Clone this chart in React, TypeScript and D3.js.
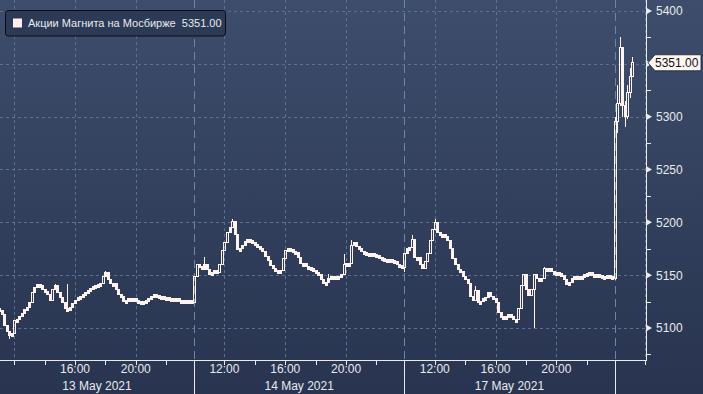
import React from "react";
import * as d3 from "d3";

// ---------- data ----------
const dayLabels = ["13 May 2021", "14 May 2021", "17 May 2021", "18 May 2021"];
const sessionOpen = "10:00";
const sessionClose = "23:50";
const firstBarTimes = ["11:00", "10:00", "10:00", "10:00"];
const barMinutes = 10;
const firstOpen = 5118;

const closes13 = [
  5116, 5112, 5102, 5096, 5092, 5094, 5107, 5108, 5110, 5113,
  5117, 5119, 5124, 5133, 5138, 5141, 5140, 5136, 5134, 5131,
  5126, 5136, 5140, 5133, 5128, 5124, 5118, 5117, 5119, 5123,
  5126, 5128, 5129, 5131, 5133, 5135, 5137, 5139, 5140, 5141,
  5142, 5148, 5152, 5145, 5142, 5142, 5136, 5131, 5129, 5125,
  5126, 5127, 5127, 5127, 5126, 5125, 5124, 5125, 5126, 5127,
  5129, 5131, 5130, 5129, 5129, 5128, 5128, 5127, 5127, 5127,
  5127, 5126, 5126, 5126, 5126, 5126, 5124,
];
const closes14 = [
  5148, 5160, 5158, 5155, 5160, 5155, 5150, 5152, 5154, 5152,
  5160, 5173, 5180, 5190, 5195, 5200, 5188, 5174, 5175, 5178,
  5181, 5183, 5182, 5180, 5179, 5177, 5175, 5172, 5167, 5163,
  5159, 5156, 5154, 5153, 5154, 5165, 5173, 5175, 5174, 5172,
  5171, 5166, 5161, 5161, 5158, 5157, 5156, 5154, 5152, 5150,
  5145, 5142, 5143, 5146, 5148, 5148, 5148, 5147, 5150, 5160,
  5161, 5161, 5178, 5180, 5177, 5175, 5172, 5171, 5170, 5170,
  5170, 5169, 5168, 5166, 5165, 5164, 5164, 5164, 5163, 5162,
  5160, 5159, 5157,
];
const closes17 = [
  5170, 5175, 5176, 5183, 5166, 5166, 5160, 5156, 5162, 5170,
  5182, 5193, 5199, 5190, 5188, 5188, 5186, 5182, 5175, 5165,
  5160, 5155, 5153, 5148, 5145, 5142, 5129, 5126, 5135, 5124,
  5125, 5127, 5128, 5133, 5129, 5127, 5124, 5114, 5109, 5110,
  5110, 5112, 5110, 5108, 5108, 5118, 5140, 5150, 5136, 5130,
  5136, 5150, 5146, 5145, 5146, 5156, 5155, 5156, 5153, 5152,
  5152, 5151, 5149, 5145, 5141, 5143, 5146, 5148, 5148, 5147,
  5148, 5150, 5151, 5152, 5150, 5149, 5150, 5149, 5148, 5148,
  5149, 5148, 5146,
];
const closes18 = [5295, 5312, 5365, 5310, 5300, 5322, 5338, 5351];

// [day index, bar time, high, low]
const wicks: [number, string, number | null, number | null][] = [
  [0, "11:40", null, 5090],
  [0, "14:40", 5142, null],
  [0, "15:30", 5142, null],
  [0, "18:00", 5154, null],
  [1, "10:40", 5167, null],
  [1, "12:30", 5203, null],
  [1, "18:50", 5151, 5144],
  [1, "19:50", 5170, null],
  [1, "20:20", 5183, null],
  [2, "10:00", null, 5153],
  [2, "10:30", 5188, null],
  [2, "12:00", 5203, null],
  [2, "14:40", 5140, null],
  [2, "18:30", null, 5100],
  [2, "19:10", 5158, null],
  [3, "10:00", 5300, 5145],
  [3, "10:10", 5330, 5285],
  [3, "10:20", 5375, 5310],
  [3, "10:30", 5362, 5300],
  [3, "10:40", 5315, 5290],
  [3, "10:50", 5330, 5298],
  [3, "11:00", 5346, 5318],
  [3, "11:10", 5356, 5338],
];

const priceTicks = [5100, 5150, 5200, 5250, 5300, 5350, 5400];
const minorPriceTicks = [5075, 5125, 5175, 5225, 5275, 5325, 5375];
const hourTicks = ["12:00", "14:00", "16:00", "18:00", "20:00", "22:00"];
const hourGrid = ["12:00", "16:00", "20:00"];
const hourLabels = ["12:00", "16:00", "20:00"];
const seriesName = "Акции Магнита на Мосбирже";
const lastValue = 5351.0;
const viewStart: [number, string] = [0, "11:04"];
const viewEnd: [number, string] = [3, "12:04"];
const priceDomain = [5069.7, 5410.4];

// ---------- layout ----------
const W = 703;
const H = 394;
const plotRight = 646;
const plotBottom = 360;
const FONT = "'Liberation Sans', Arial, sans-serif";
const TEXT = "#e8eaee";
const LINE = "#fff3ef";

const toMin = (s: string) => {
  const [h, m] = s.split(":").map(Number);
  return h * 60 + m;
};
const sessionLen = toMin(sessionClose) - toMin(sessionOpen);
const sm = (day: number, t: string) => day * sessionLen + (toMin(t) - toMin(sessionOpen));

const x = d3
  .scaleLinear()
  .domain([sm(viewStart[0], viewStart[1]), sm(viewEnd[0], viewEnd[1])])
  .range([0, plotRight]);
const y = d3.scaleLinear().domain(priceDomain).range([plotBottom, 0]);

type Bar = { t: number; o: number; c: number; h: number | null; l: number | null };

function buildBars(): Bar[] {
  const all = [closes13, closes14, closes17, closes18];
  const bars: Bar[] = [];
  let prev = firstOpen;
  all.forEach((arr, d) => {
    const start = toMin(firstBarTimes[d]) - toMin(sessionOpen);
    arr.forEach((c, i) => {
      const t = d * sessionLen + start + i * barMinutes;
      bars.push({ t, o: prev, c, h: null, l: null });
      prev = c;
    });
  });
  wicks.forEach(([d, tm, hi, lo]) => {
    const t = sm(d, tm);
    const b = bars.find((bb) => bb.t === t);
    if (b) {
      b.h = hi;
      b.l = lo;
    }
  });
  return bars;
}

export default function App() {
  const bars = buildBars();
  const fmt = d3.format(".2f");

  const dayStarts = [1, 2, 3].map((d) => x(sm(d, sessionOpen)));

  return (
    <svg
      width={W}
      height={H}
      style={{ position: "absolute", left: 0, top: 0, display: "block" }}
      fontFamily={FONT}
    >
      <defs>
        <linearGradient id="bg" x1="0" y1="0" x2="0" y2="1">
          <stop offset="0%" stopColor="#3d4d6b" />
          <stop offset="100%" stopColor="#283450" />
        </linearGradient>
        <clipPath id="plot">
          <rect x={0} y={0} width={plotRight} height={plotBottom} />
        </clipPath>
      </defs>
      <rect x={0} y={0} width={W} height={H} fill="url(#bg)" />

      {/* horizontal grid */}
      {priceTicks.map((p) => (
        <line
          key={"hg" + p}
          x1={0}
          x2={plotRight}
          y1={Math.round(y(p)) + 0.5}
          y2={Math.round(y(p)) + 0.5}
          stroke="#57738f"
          strokeWidth={1}
          strokeDasharray="3,3"
        />
      ))}

      {/* vertical grid */}
      {dayLabels.map((_, d) =>
        hourGrid.map((h) => {
          const xx = x(sm(d, h));
          if (xx < 0 || xx > plotRight) return null;
          return (
            <line
              key={"vg" + d + h}
              x1={Math.round(xx) + 0.5}
              x2={Math.round(xx) + 0.5}
              y1={0}
              y2={plotBottom}
              stroke="#57738f"
              strokeDasharray="3,3"
            />
          );
        })
      )}
      {dayStarts.map((xx, i) => (
        <g key={"ds" + i}>
          <line
            x1={Math.round(xx) + 0.5}
            x2={Math.round(xx) + 0.5}
            y1={0}
            y2={plotBottom}
            stroke="#6a87a5"
            strokeDasharray="8,5"
          />
          <line
            x1={Math.round(xx) + 0.5}
            x2={Math.round(xx) + 0.5}
            y1={plotBottom}
            y2={H}
            stroke={TEXT}
          />
        </g>
      ))}

      {/* series */}
      <g clipPath="url(#plot)" shapeRendering="crispEdges">
        {bars.map((b, i) => {
          const cx = Math.round(x(b.t));
          const top = Math.round(y(Math.max(b.o, b.c)));
          const bot = Math.round(y(Math.min(b.o, b.c)));
          const hgt = Math.max(bot - top, 3);
          const down = b.c < b.o;
          return (
            <g key={"b" + i}>
              {b.h !== null && (
                <line x1={cx + 0.5} x2={cx + 0.5} y1={y(b.h)} y2={top} stroke={LINE} strokeWidth={1} />
              )}
              {b.l !== null && (
                <line x1={cx + 0.5} x2={cx + 0.5} y1={top + hgt} y2={y(b.l)} stroke={LINE} strokeWidth={1} />
              )}
              <rect
                x={cx - 0.5}
                y={top - 0.5}
                width={2}
                height={hgt}
                fill={down || hgt < 6 ? LINE : "none"}
                stroke={LINE}
                strokeWidth={1}
              />
            </g>
          );
        })}
      </g>

      {/* axes lines */}
      <line x1={plotRight + 0.5} x2={plotRight + 0.5} y1={0} y2={plotBottom + 1} stroke={TEXT} />
      <line x1={0} x2={plotRight + 1} y1={plotBottom + 0.5} y2={plotBottom + 0.5} stroke={TEXT} />

      {/* y ticks */}
      {minorPriceTicks.map((p) => (
        <line
          key={"mt" + p}
          x1={plotRight}
          x2={plotRight + 5}
          y1={Math.round(y(p)) + 0.5}
          y2={Math.round(y(p)) + 0.5}
          stroke={TEXT}
        />
      ))}
      {priceTicks.map((p) => {
        const yy = y(p);
        return (
          <g key={"yt" + p}>
            <path
              d={`M${plotRight},${yy - 3.5}L${plotRight + 6},${yy}L${plotRight},${yy + 3.5}Z`}
              fill={TEXT}
            />
            {p !== 5350 && (
              <text x={656} y={yy + 4.5} fontSize={12} fill={TEXT}>
                {p}
              </text>
            )}
          </g>
        );
      })}

      {/* last value tag */}
      {(() => {
        const yy = y(lastValue);
        return (
          <g>
            <path
              d={`M${plotRight + 2},${yy}L${plotRight + 9},${yy - 8}L${W - 2},${yy - 8}L${W - 2},${yy + 8}L${plotRight + 9},${yy + 8}Z`}
              fill="#fdf6f2"
              stroke="#1a1f2c"
              strokeWidth={0.8}
            />
            <text x={655} y={yy + 4.5} fontSize={12} fill="#111">
              {fmt(lastValue)}
            </text>
          </g>
        );
      })()}

      {/* x ticks */}
      {dayLabels.map((_, d) =>
        hourTicks.map((h) => {
          const xx = x(sm(d, h));
          if (xx < 0 || xx > plotRight) return null;
          return (
            <line
              key={"xt" + d + h}
              x1={Math.round(xx) + 0.5}
              x2={Math.round(xx) + 0.5}
              y1={plotBottom}
              y2={plotBottom + 5}
              stroke={TEXT}
            />
          );
        })
      )}
      {dayLabels.map((_, d) =>
        hourLabels.map((h) => {
          const xx = x(sm(d, h));
          if (xx - 15 < 0 || xx + 15 > plotRight) return null;
          return (
            <text
              key={"xl" + d + h}
              x={xx}
              y={373}
              fontSize={12}
              fill={TEXT}
              textAnchor="middle"
            >
              {h}
            </text>
          );
        })
      )}
      {dayLabels.map((lab, d) => {
        const a = Math.max(0, x(sm(d, sessionOpen)));
        const b = Math.min(plotRight, x(sm(d, sessionClose)));
        if (b - a < 80) return null;
        return (
          <text
            key={"dl" + d}
            x={(a + b) / 2}
            y={390}
            fontSize={12}
            fill={TEXT}
            textAnchor="middle"
          >
            {lab}
          </text>
        );
      })}

      {/* legend */}
      <rect x={5.5} y={10.5} width={220} height={25.5} rx={3} fill="#2c3a55" stroke="#0b0d14" />
      <rect x={13} y={18.5} width={9} height={9} fill="#fff0ee" />
      <text x={28} y={27} fontSize={11} fill={TEXT}>
        {seriesName}
        {"\u00a0\u00a0"}
        {fmt(lastValue)}
      </text>
    </svg>
  );
}
